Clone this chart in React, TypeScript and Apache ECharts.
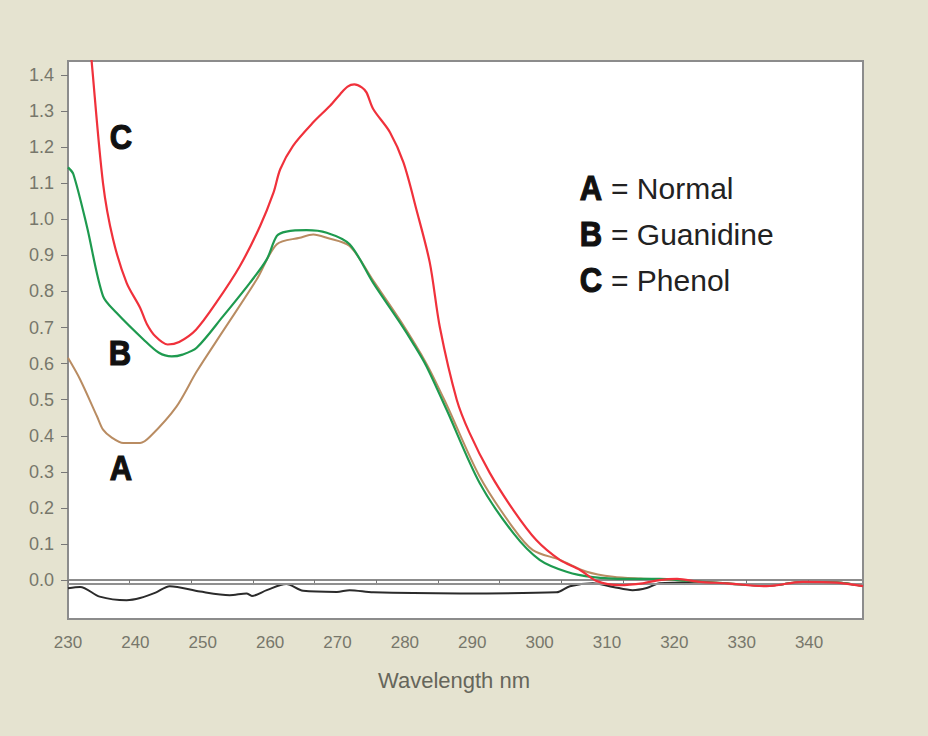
import React, { useEffect, useRef } from "react";
import * as echarts from "echarts";

// Wavelength (nm) / absorbance samples
const normalNm = [230, 231.8, 234.3, 235.2, 236.5, 238.2, 240.7, 242.2, 246.1, 249.1, 253, 258, 261, 264.4, 266.4, 268.4, 271.8, 275.3, 279.3, 283.2, 286.2, 291.1, 296.1, 299, 303, 307, 310.9, 315, 320, 323.8, 327.8, 333.7, 339, 344.1, 348];
const normalAbs = [0.616, 0.556, 0.454, 0.417, 0.395, 0.38, 0.38, 0.398, 0.481, 0.578, 0.69, 0.833, 0.931, 0.949, 0.958, 0.949, 0.926, 0.83, 0.72, 0.6, 0.486, 0.287, 0.144, 0.083, 0.056, 0.023, 0.009, 0.004, 0.0, -0.005, -0.009, -0.016, -0.006, -0.007, -0.016];

const guanNm = [230, 230.8, 232.8, 235.2, 237.2, 241.2, 243.5, 245.4, 247, 249.1, 253, 257, 259.5, 261, 262.4, 265.4, 268.4, 271.8, 275.3, 279.3, 281.2, 283.2, 286.2, 291.1, 296.1, 300, 304, 307.9, 312.9, 317.8, 321.8, 327.8, 333.7, 339, 344.1, 348];
const guanAbs = [1.144, 1.125, 0.981, 0.787, 0.741, 0.667, 0.63, 0.62, 0.625, 0.644, 0.731, 0.824, 0.889, 0.954, 0.966, 0.97, 0.963, 0.931, 0.824, 0.713, 0.657, 0.593, 0.472, 0.269, 0.13, 0.056, 0.023, 0.008, 0.003, 0.003, -0.002, -0.009, -0.016, -0.006, -0.007, -0.016];

const phenolNm = [230, 232, 233.5, 235.2, 236.7, 238.7, 240.7, 241.7, 243, 244.8, 246.5, 249, 252, 255.5, 258.5, 260.5, 261.5, 263.4, 266.4, 268.9, 270.4, 271.5, 272.5, 273.6, 274.3, 275.3, 277.8, 279.8, 281.7, 283.7, 285.2, 287.7, 289.6, 292.6, 296.1, 299.5, 303, 306, 308.5, 311.9, 315.3, 317.8, 320.4, 323.8, 327.8, 333.7, 339, 344.1, 348];
const phenolAbs = [2.1, 1.75, 1.44, 1.1, 0.944, 0.824, 0.755, 0.71, 0.675, 0.653, 0.66, 0.694, 0.769, 0.87, 0.981, 1.074, 1.139, 1.204, 1.269, 1.315, 1.347, 1.368, 1.374, 1.366, 1.352, 1.306, 1.241, 1.157, 1.028, 0.88, 0.7, 0.5, 0.408, 0.297, 0.194, 0.111, 0.056, 0.028, -0.003, -0.014, -0.009, 0.0, 0.003, -0.005, -0.009, -0.017, -0.005, -0.007, -0.017];

const baseNm = [230, 231.8, 234.7, 238.7, 240.7, 243, 245.1, 249.6, 254, 256.5, 257.3, 259.5, 262.4, 264.9, 269.9, 271.8, 275.3, 288.2, 302.5, 304.5, 307.9, 310.9, 313.8, 315.9, 317.8, 322.7, 327.8, 333.7, 339, 344.1, 348];
const baseAbs = [-0.023, -0.019, -0.046, -0.056, -0.05, -0.035, -0.017, -0.032, -0.042, -0.037, -0.044, -0.028, -0.011, -0.03, -0.033, -0.028, -0.034, -0.037, -0.034, -0.017, -0.009, -0.019, -0.028, -0.022, -0.009, -0.007, -0.01, -0.016, -0.006, -0.007, -0.016];

const xLabels = [230, 240, 250, 260, 270, 280, 290, 300, 310, 320, 330, 340];
const xTicks = [230, 239.15, 248.3, 257.46, 266.61, 275.76, 284.91, 294.06, 303.22, 312.37, 321.52, 330.67, 339.82];
const yTicks = [0, 0.1, 0.2, 0.3, 0.4, 0.5, 0.6, 0.7, 0.8, 0.9, 1.0, 1.1, 1.2, 1.3, 1.4];

const curveLetters = [
  { t: "C", x: 121, y: 137 },
  { t: "B", x: 120, y: 353 },
  { t: "A", x: 121, y: 468 },
];
const legendKeys = ["A", "B", "C"];
const legendNames = ["Normal", "Guanidine", "Phenol"];

const pairs = (xs: number[], ys: number[]) => xs.map((x, i) => [x, ys[i]]);

export default function App() {
  const ref = useRef<HTMLDivElement>(null);
  useEffect(() => {
    document.body.style.margin = "0";
    if (!ref.current) return;
    const chart = echarts.init(ref.current, null, { renderer: "svg" });
    const labelColor = "#77776b";
    const sans = "'Liberation Sans', Arial, sans-serif";
    const letterStyle = (t: string) => ({
      text: t,
      fill: "#111",
      stroke: "#111",
      lineWidth: 1.2,
      font: `bold 36px ${sans}`,
      textAlign: "center",
      textVerticalAlign: "middle",
    });
    chart.setOption({
      animation: false,
      backgroundColor: "#e5e3d0",
      grid: {
        left: 68,
        right: 65,
        top: 61,
        bottom: 117,
        show: true,
        backgroundColor: "#ffffff",
        borderColor: "#8c8c8c",
        borderWidth: 2,
      },
      xAxis: {
        type: "value",
        min: 230,
        max: 348,
        axisLine: { show: true, lineStyle: { color: "#8c8c8c", width: 2 } },
        axisTick: { show: true, customValues: xTicks, length: 5, lineStyle: { color: "#777" } },
        axisLabel: {
          customValues: xLabels,
          margin: 15,
          color: labelColor,
          fontSize: 17,
          fontFamily: sans,
        },
        splitLine: { show: false },
      },
      yAxis: {
        type: "value",
        min: -0.108,
        max: 1.439,
        axisLine: { show: true, lineStyle: { color: "#8c8c8c", width: 2 } },
        axisTick: { show: true, customValues: yTicks, length: 7, lineStyle: { color: "#777" } },
        axisLabel: {
          customValues: yTicks,
          margin: 14,
          color: labelColor,
          fontSize: 18,
          fontFamily: sans,
          formatter: (v: number) => v.toFixed(1),
        },
        splitLine: { show: false },
      },
      series: [
        {
          name: "Baseline",
          type: "line",
          data: pairs(baseNm, baseAbs),
          smooth: 0.3,
          symbol: "none",
          lineStyle: { color: "#2b2b2b", width: 2 },
          markLine: {
            silent: true,
            symbol: "none",
            label: { show: false },
            lineStyle: { color: "#909090", width: 2, type: "solid" },
            data: [{ yAxis: -0.01 }],
          },
          z: 2,
        },
        {
          name: "Normal",
          type: "line",
          data: pairs(normalNm, normalAbs),
          smooth: 0.3,
          symbol: "none",
          lineStyle: { color: "#b98c62", width: 2 },
          z: 3,
        },
        {
          name: "Guanidine",
          type: "line",
          data: pairs(guanNm, guanAbs),
          smooth: 0.3,
          symbol: "none",
          lineStyle: { color: "#1e9a4f", width: 2.2 },
          z: 4,
        },
        {
          name: "Phenol",
          type: "line",
          data: pairs(phenolNm, phenolAbs),
          smooth: 0.3,
          symbol: "none",
          lineStyle: { color: "#f0313b", width: 2.2 },
          z: 5,
        },
      ],
      graphic: [
        ...curveLetters.map((c) => ({
          type: "text",
          x: c.x,
          y: c.y,
          scaleX: 0.86,
          z: 10,
          style: letterStyle(c.t),
        })),
        ...legendKeys.map((k, i) => ({
          type: "text",
          x: 591,
          y: 188 + i * 46,
          scaleX: 0.86,
          z: 10,
          style: letterStyle(k),
        })),
        ...legendNames.map((n, i) => ({
          type: "text",
          x: 611,
          y: 188 + i * 46,
          z: 10,
          style: {
            text: `= ${n}`,
            fill: "#222",
            font: `30px ${sans}`,
            textAlign: "left",
            textVerticalAlign: "middle",
          },
        })),
        {
          type: "text",
          x: 454,
          y: 680,
          style: {
            text: "Wavelength nm",
            fill: "#66665b",
            font: `22px ${sans}`,
            textAlign: "center",
            textVerticalAlign: "middle",
          },
        },
      ],
    });
    return () => chart.dispose();
  }, []);
  return <div ref={ref} style={{ width: 928, height: 736, background: "#e5e3d0" }} />;
}
